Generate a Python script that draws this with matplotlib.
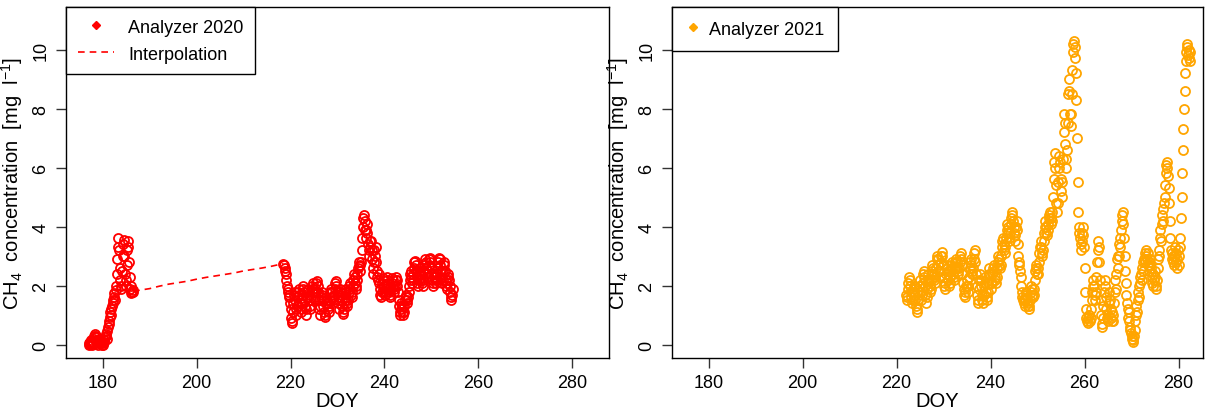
import numpy as np
import matplotlib
matplotlib.use("Agg")
import matplotlib.pyplot as plt
from matplotlib.lines import Line2D

plt.rcParams['font.family'] = ['Liberation Sans', 'DejaVu Sans']
plt.rcParams['mathtext.fontset'] = 'custom'
plt.rcParams['mathtext.rm'] = 'Liberation Sans'
plt.rcParams['mathtext.it'] = 'Liberation Sans'

# 3-hourly CH4 readings (mg/l), one row per day
step = 0.125

# analyzer 2020, first stretch
start_2020a = 177.0
ch4_2020a = [
    0.05, 0.0, 0.02, 0.1, 0.15, 0.08, 0.0, 0.05,    # 177
    0.1, 0.2, 0.3, 0.35, 0.25, 0.3, 0.15, 0.05,     # 178
    0.0, 0.05, 0.1, 0.15, 0.2, 0.1, 0.05, 0.0,      # 179
    0.05, 0.0, 0.1, 0.15, 0.25, 0.35, 0.3, 0.2,     # 180
    0.45, 0.6, 0.8, 0.7, 0.95, 1.1, 1.0, 1.2,       # 181
    1.3, 1.5, 1.4, 1.6, 1.75, 1.5, 1.85, 2.0,       # 182
    2.4, 2.9, 3.3, 3.6, 3.2, 2.6, 2.2, 1.9,         # 183
    2.0, 2.5, 3.0, 3.4, 3.55, 3.0, 2.4, 2.0,        # 184
    2.2, 2.7, 3.2, 3.5, 3.3, 2.8, 2.3, 1.9,         # 185
    1.75, 2.0, 1.8, 1.85, 1.8,                      # 186
]

# gap filling between the two 2020 stretches
interp_doy = [186.5, 188, 190, 192, 194, 196, 198, 200, 202, 204,
              206, 208, 210, 212, 214, 216, 218.5]
interp_val = [1.8, 1.85, 1.9, 1.98, 2.05, 2.1, 2.15, 2.22, 2.28, 2.33,
              2.38, 2.43, 2.5, 2.55, 2.6, 2.66, 2.75]

# analyzer 2020, second stretch
start_2020b = 218.5
ch4_2020b = [
    2.75, 2.7, 2.6, 2.5,                            # 218.5
    2.4, 2.2, 2.0, 1.8, 1.9, 1.6, 1.7, 1.4,         # 219
    1.2, 0.9, 0.75, 0.8, 1.1, 1.4, 1.7, 1.8,        # 220
    1.5, 1.2, 1.0, 1.3, 1.6, 1.8, 1.9, 1.7,         # 221
    1.4, 1.2, 1.1, 1.4, 1.7, 1.9, 2.0, 1.8,         # 222
    1.5, 1.3, 1.0, 1.2, 1.6, 1.85, 1.9, 1.7,        # 223
    1.5, 1.3, 1.2, 1.5, 1.8, 2.0, 2.1, 1.9,         # 224
    1.8, 1.6, 1.5, 1.8, 2.1, 2.15, 2.0, 1.8,        # 225
    1.5, 1.2, 1.0, 1.3, 1.6, 1.8, 1.7, 1.5,         # 226
    1.3, 1.1, 0.95, 1.0, 1.4, 1.6, 1.5, 1.4,        # 227
    1.2, 1.1, 1.3, 1.5, 1.8, 1.9, 1.8, 1.6,         # 228
    1.6, 1.5, 1.7, 1.9, 2.1, 2.15, 2.0, 1.8,        # 229
    1.6, 1.4, 1.2, 1.5, 1.8, 1.9, 1.7, 1.5,         # 230
    1.3, 1.1, 1.05, 1.2, 1.5, 1.8, 1.9, 1.6,        # 231
    1.4, 1.3, 1.5, 1.8, 2.0, 2.1, 1.9, 1.7,         # 232
    1.6, 1.8, 2.0, 2.2, 2.4, 2.3, 2.1, 1.9,         # 233
    2.0, 2.2, 2.4, 2.6, 2.65, 2.8, 2.7, 2.5,        # 234
    2.8, 3.2, 3.6, 4.0, 4.3, 4.4, 4.2, 3.9,         # 235
    3.6, 3.9, 4.1, 3.8, 3.4, 3.2, 3.0, 3.5,         # 236
    3.3, 3.5, 3.2, 2.9, 2.6, 2.4, 2.8, 3.2,         # 237
    3.0, 3.3, 2.8, 2.5, 2.3, 2.2, 2.4, 2.1,         # 238
    1.9, 1.7, 1.6, 1.8, 2.1, 2.25, 2.2, 2.0,        # 239
    1.8, 1.7, 1.8, 2.0, 2.2, 2.3, 2.1, 1.9,         # 240
    1.8, 1.6, 1.7, 1.9, 2.1, 2.25, 2.2, 2.0,        # 241
    1.9, 1.8, 2.0, 2.2, 2.3, 2.2, 2.0, 1.8,         # 242
    1.5, 1.3, 1.1, 1.0, 1.2, 1.4, 1.3, 1.1,         # 243
    1.0, 1.1, 1.3, 1.5, 1.6, 1.7, 1.5, 1.4,         # 244
    1.6, 1.8, 2.0, 2.2, 2.4, 2.5, 2.3, 2.1,         # 245
    2.2, 2.4, 2.6, 2.8, 2.85, 2.7, 2.5, 2.3,        # 246
    2.1, 2.0, 2.2, 2.4, 2.6, 2.5, 2.35, 2.2,        # 247
    2.1, 2.0, 2.2, 2.5, 2.7, 2.9, 2.8, 2.6,         # 248
    2.4, 2.3, 2.5, 2.7, 2.9, 2.95, 2.8, 2.6,        # 249
    2.4, 2.2, 2.0, 2.1, 2.3, 2.4, 2.3, 2.2,         # 250
    2.1, 2.2, 2.4, 2.6, 2.8, 2.95, 2.9, 2.7,        # 251
    2.5, 2.3, 2.1, 2.2, 2.5, 2.8, 2.7, 2.5,         # 252
    2.2, 2.0, 1.9, 2.1, 2.3, 2.4, 2.2, 2.0,         # 253
    1.8, 1.6, 1.5, 1.7, 1.9,                        # 254
]

# analyzer 2021
start_2021 = 222.0
ch4_2021 = [
    1.7, 1.5, 1.6, 1.9, 2.1, 2.3, 2.2, 2.0,         # 222
    1.8, 1.6, 1.4, 1.5, 1.8, 2.0, 1.9, 1.7,         # 223
    1.5, 1.3, 1.1, 1.2, 1.5, 1.8, 2.0, 2.2,         # 224
    2.0, 1.8, 1.5, 1.7, 2.1, 2.4, 2.5, 2.3,         # 225
    2.0, 1.7, 1.4, 1.6, 1.9, 2.2, 2.4, 2.2,         # 226
    2.0, 1.8, 1.9, 2.2, 2.5, 2.7, 2.6, 2.4,         # 227
    2.2, 2.1, 2.3, 2.6, 2.9, 3.0, 2.9, 2.7,         # 228
    2.5, 2.3, 2.5, 2.8, 3.0, 3.15, 3.0, 2.7,        # 229
    2.3, 2.0, 1.9, 2.1, 2.4, 2.6, 2.7, 2.5,         # 230
    2.2, 2.0, 2.1, 2.3, 2.5, 2.7, 2.8, 2.6,         # 231
    2.4, 2.2, 2.3, 2.6, 2.8, 2.9, 2.8, 2.6,         # 232
    2.5, 2.4, 2.6, 2.8, 3.0, 3.1, 2.9, 2.7,         # 233
    2.4, 2.1, 1.9, 1.7, 1.6, 1.8, 2.0, 2.2,         # 234
    2.0, 1.8, 2.0, 2.3, 2.6, 2.8, 2.9, 2.7,         # 235
    2.5, 2.4, 2.6, 2.9, 3.1, 3.2, 2.8, 2.4,         # 236
    2.0, 1.7, 1.4, 1.5, 1.9, 2.2, 2.4, 2.2,         # 237
    2.0, 1.7, 1.5, 1.4, 1.7, 2.0, 2.3, 2.1,         # 238
    1.8, 1.6, 1.5, 1.8, 2.1, 2.4, 2.6, 2.4,         # 239
    2.1, 1.9, 2.1, 2.4, 2.6, 2.7, 2.5, 2.3,         # 240
    2.2, 2.1, 2.3, 2.6, 2.8, 3.0, 2.9, 2.7,         # 241
    2.6, 2.7, 3.0, 3.3, 3.5, 3.6, 3.4, 3.2,         # 242
    3.1, 3.3, 3.6, 3.9, 4.1, 4.0, 3.8, 3.6,         # 243
    3.5, 3.8, 4.1, 4.3, 4.5, 4.4, 4.2, 4.0,         # 244
    3.8, 3.5, 3.7, 4.0, 4.2, 3.9, 3.4, 3.0,         # 245
    2.8, 2.7, 2.5, 2.3, 2.0, 1.8, 1.6, 1.5,         # 246
    1.5, 1.4, 1.3, 1.5, 1.7, 1.8, 1.6, 1.4,         # 247
    1.3, 1.2, 1.3, 1.5, 1.8, 2.0, 1.9, 1.7,         # 248
    1.6, 1.7, 1.9, 2.2, 2.5, 2.7, 2.6, 2.4,         # 249
    2.4, 2.6, 2.8, 3.1, 3.3, 3.5, 3.3, 3.1,         # 250
    3.0, 3.2, 3.5, 3.8, 4.0, 4.2, 4.0, 3.8,         # 251
    3.7, 3.9, 4.1, 4.3, 4.4, 4.5, 4.3, 4.1,         # 252
    4.2, 4.5, 5.0, 5.6, 6.2, 6.5, 6.0, 5.4,         # 253
    4.8, 4.5, 4.8, 5.5, 6.0, 6.4, 6.2, 5.6,         # 254
    5.2, 5.0, 5.5, 6.3, 7.2, 7.8, 7.5, 6.8,         # 255
    6.3, 6.0, 6.6, 7.5, 8.5, 9.0, 8.6, 7.8,         # 256
    7.4, 7.8, 8.5, 9.3, 9.9, 10.2, 10.3, 10.1,      # 257
    9.7, 9.2, 8.3, 7.0, 5.5, 4.5, 4.0, 3.8,         # 258
    3.6, 3.4, 3.2, 3.5, 3.8, 4.0, 3.7, 3.3,         # 259
    2.6, 1.8, 1.2, 0.9, 0.8, 0.75, 0.9, 1.0,        # 260
    1.0, 0.8, 0.9, 1.2, 1.5, 1.8, 2.0, 2.2,         # 261
    2.0, 1.7, 1.5, 1.8, 2.3, 2.8, 3.2, 3.5,         # 262
    3.3, 2.8, 2.2, 1.5, 1.0, 0.7, 0.6, 0.9,         # 263
    1.3, 1.8, 2.2, 2.0, 1.6, 1.2, 0.9, 0.8,         # 264
    1.0, 1.4, 1.8, 1.5, 1.2, 0.9, 0.8, 1.1,         # 265
    0.8, 1.0, 1.4, 1.8, 2.2, 1.9, 2.4, 2.9,         # 266
    2.6, 3.0, 3.4, 3.0, 3.6, 3.3, 3.9, 4.2,         # 267
    4.4, 4.5, 4.1, 3.6, 3.0, 2.5, 2.1, 1.7,         # 268
    1.4, 1.2, 0.9, 1.1, 0.8, 0.6, 0.5, 0.4,         # 269
    0.3, 0.2, 0.1, 0.15, 0.3, 0.5, 0.8, 1.0,        # 270
    1.3, 1.1, 1.5, 1.8, 1.6, 2.0, 2.3, 2.1,         # 271
    2.4, 2.2, 2.6, 2.8, 2.5, 2.9, 3.1, 2.8,         # 272
    3.0, 3.2, 2.9, 2.7, 3.1, 2.8, 2.5, 2.7,         # 273
    2.9, 2.6, 2.3, 2.1, 2.4, 2.0, 2.2, 2.5,         # 274
    2.3, 2.0, 1.9, 2.2, 2.6, 2.9, 3.2, 3.0,         # 275
    3.6, 3.9, 3.5, 4.1, 4.4, 4.2, 4.6, 4.8,         # 276
    5.0, 5.4, 5.8, 6.1, 6.2, 6.0, 5.7, 5.3,         # 277
    4.8, 4.2, 3.6, 3.2, 2.9, 3.1, 2.8, 3.0,         # 278
    2.7, 3.0, 3.3, 3.1, 2.8, 2.6, 2.9, 3.2,         # 279
    3.0, 2.7, 3.3, 3.6, 4.3, 5.0, 5.8, 6.6,         # 280
    7.3, 8.0, 8.6, 9.2, 9.6, 9.9, 10.2, 10.1,       # 281
    9.8, 10.0, 9.7, 9.9, 9.6,                       # 282
]

x_ticks = [180, 200, 220, 240, 260, 280]
y_ticks = [0, 2, 4, 6, 8, 10]
ylabel = r'CH$_4$  concentration  [mg  l$^{-1}$]'

W, H = 1207, 414
fig = plt.figure(figsize=(W / 100, H / 100), dpi=100)
ax1 = fig.add_axes([66 / W, 55.3 / H, 543 / W, 350.7 / H])
ax2 = fig.add_axes([672 / W, 55.3 / H, 531 / W, 350.7 / H])


def doy_of(start, vals):
    return start + step * np.arange(len(vals))


def style(ax, xmax):
    ax.set_xlim(172.2, xmax)
    ax.set_ylim(-0.44, 11.44)
    ax.set_xticks(x_ticks)
    ax.set_yticks(y_ticks)
    ax.set_yticklabels([str(v) for v in y_ticks], rotation=90, va='center')
    ax.tick_params(direction='out', length=7, width=1, labelsize=13,
                   color='#333333', pad=5)
    for s in ax.spines.values():
        s.set_linewidth(1)
        s.set_color('black')
    ax.set_xlabel('DOY', fontsize=14.5, labelpad=0)
    ax.set_ylabel(ylabel, fontsize=14.5, labelpad=5)


ms, mew = 6.5, 1.3
ax1.plot(doy_of(start_2020a, ch4_2020a), ch4_2020a, 'o', mfc='none',
         mec='red', ms=ms, mew=mew)
ax1.plot(doy_of(start_2020b, ch4_2020b), ch4_2020b, 'o', mfc='none',
         mec='red', ms=ms, mew=mew)
ax1.plot(interp_doy, interp_val, '--', color='red', lw=1.2, dashes=(4, 3))
style(ax1, 287.8)
h1 = [Line2D([], [], ls='none', marker='D', ms=4.5, color='red'),
      Line2D([], [], ls='--', dashes=(4, 3), lw=1.2, color='red')]
leg1 = ax1.legend(h1, ['Analyzer 2020', 'Interpolation'], loc='upper left',
                  fancybox=False, edgecolor='black', framealpha=1,
                  borderaxespad=0, fontsize=13, handlelength=2.0,
                  borderpad=0.65, labelspacing=0.55, handletextpad=0.8)
leg1.get_frame().set_linewidth(1)

ax2.plot(doy_of(start_2021, ch4_2021), ch4_2021, 'o', mfc='none',
         mec='orange', ms=ms, mew=mew)
style(ax2, 172.2 + 531 / 4.7)
h2 = [Line2D([], [], ls='none', marker='D', ms=4.5, color='orange')]
leg2 = ax2.legend(h2, ['Analyzer 2021'], loc='upper left',
                  fancybox=False, edgecolor='black', framealpha=1,
                  borderaxespad=0, fontsize=13, handlelength=0.8,
                  borderpad=0.75, handletextpad=0.5)
leg2.get_frame().set_linewidth(1)

fig.savefig('out.png', dpi=100)
plt.close(fig)
